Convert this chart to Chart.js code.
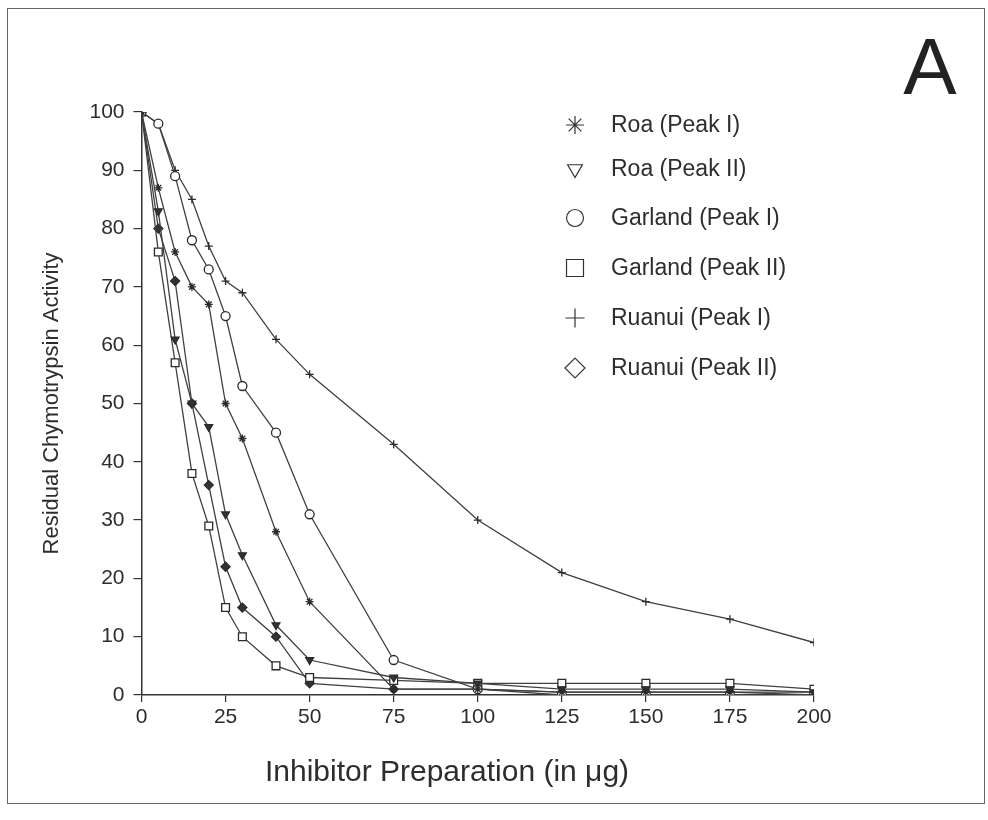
<!DOCTYPE html>
<html><head><meta charset="utf-8">
<script src="https://cdn.jsdelivr.net/npm/chart.js@4.4.1/dist/chart.umd.min.js"></script>
<style>
html,body{margin:0;padding:0;background:#fff;}
#wrap{position:relative;width:988px;height:820px;}
#frame{position:absolute;left:7px;top:8px;width:978px;height:796px;border:1.5px solid #666;box-sizing:border-box;pointer-events:none}
</style></head><body>
<div id="wrap"><canvas id="c" width="988" height="820"></canvas><div id="frame"></div></div>
<script>
const doses = [0, 5, 10, 15, 20, 25, 30, 40, 50, 75, 100, 125, 150, 175, 200];
const roaPeakI      = [100, 87, 76, 70, 67, 50, 44, 28, 16, 1, 1, 0.5, 0.5, 0.5, 0];
const roaPeakII     = [100, 83, 61, 50, 46, 31, 24, 12, 6, 3, 2, 1, 1, 1, 0.5];
const garlandPeakI  = [100, 98, 89, 78, 73, 65, 53, 45, 31, 6, 1, 0, 0, 0, 0];
const garlandPeakII = [100, 76, 57, 38, 29, 15, 10, 5, 3, 2.5, 2, 2, 2, 2, 1];
const ruanuiPeakI   = [100, 98, 90, 85, 77, 71, 69, 61, 55, 43, 30, 21, 16, 13, 9];
const ruanuiPeakII  = [100, 80, 71, 50, 36, 22, 15, 10, 2, 1, 1, 0.5, 0.5, 0.5, 0.5];
const seriesNames = ['Roa (Peak I)', 'Roa (Peak II)', 'Garland (Peak I)', 'Garland (Peak II)', 'Ruanui (Peak I)', 'Ruanui (Peak II)'];
const xTicks = [0, 25, 50, 75, 100, 125, 150, 175, 200];
const yTicks = [0, 10, 20, 30, 40, 50, 60, 70, 80, 90, 100];
const xTitle = 'Inhibitor Preparation (in μg)';
const yTitle = 'Residual Chymotrypsin Activity';
const panelLabel = 'A';

const allSeries = [roaPeakI, roaPeakII, garlandPeakI, garlandPeakII, ruanuiPeakI, ruanuiPeakII];
const styles = [
  {ps:'star', rot:0, r:4, fill:'#333', lr:9},
  {ps:'triangle', rot:180, r:4.5, fill:'#333', lr:8.5},
  {ps:'circle', rot:0, r:4.5, fill:'#fff', lr:8.5},
  {ps:'rect', rot:0, r:5.5, fill:'#fff', lr:12},
  {ps:'cross', rot:0, r:4, fill:'#333', lr:9.5},
  {ps:'rectRot', rot:0, r:4.5, fill:'#333', lr:10}
];
const ink = '#2d2d2d';
const FONT = "'Liberation Sans', Arial, sans-serif";

const datasets = allSeries.map((vals, i) => ({
  label: seriesNames[i],
  data: doses.map((d, j) => ({x: d, y: vals[j]})),
  showLine: true,
  borderColor: '#404040',
  borderWidth: 1.3,
  pointStyle: styles[i].ps,
  pointRotation: styles[i].rot,
  pointRadius: styles[i].r,
  pointBorderWidth: 1.3,
  pointBorderColor: '#2a2a2a',
  pointBackgroundColor: styles[i].fill,
  fill: false,
  tension: 0
}));

const legendY = [125, 169, 218, 268, 318, 368];
const overlay = {
  id: 'overlay',
  afterDraw(chart) {
    const ctx = chart.ctx;
    ctx.save();
    seriesNames.forEach((name, i) => {
      ctx.strokeStyle = '#333';
      ctx.fillStyle = '#fff';
      ctx.lineWidth = 1.2;
      Chart.helpers.drawPoint(ctx, {pointStyle: styles[i].ps, radius: styles[i].lr, rotation: styles[i].rot, borderWidth: 1.2}, 575, legendY[i]);
      ctx.fillStyle = ink;
      ctx.font = '23px ' + FONT;
      ctx.textBaseline = 'middle';
      ctx.textAlign = 'left';
      ctx.fillText(name, 611, legendY[i] + 1);
    });
    ctx.font = '30px ' + FONT;
    ctx.textAlign = 'center';
    ctx.textBaseline = 'middle';
    ctx.fillText(xTitle, 447, 773);
    ctx.font = '80px ' + FONT;
    ctx.textBaseline = 'alphabetic';
    ctx.textAlign = 'center';
    ctx.fillStyle = '#222';
    ctx.fillText(panelLabel, 930, 94);
    ctx.restore();
  }
};

new Chart(document.getElementById('c'), {
  type: 'scatter',
  data: {datasets},
  plugins: [overlay],
  options: {
    responsive: false,
    animation: false,
    layout: {padding: {left: 10, right: 174, top: 112, bottom: 10}},
    plugins: {legend: {display: false}, tooltip: {enabled: false}},
    scales: {
      x: {
        type: 'linear', min: 0, max: 200,
        afterBuildTicks: s => { s.ticks = xTicks.map(v => ({value: v})); },
        afterFit: s => { s.height = 115; },
        ticks: {font: {size: 21, family: FONT}, color: ink, padding: 3, maxRotation: 0, autoSkip: false},
        grid: {display: true, drawOnChartArea: false, tickLength: 7, color: '#333', lineWidth: 1.2},
        border: {color: '#333', width: 1.5},
        title: {display: false}
      },
      y: {
        type: 'linear', min: 0, max: 100,
        afterBuildTicks: s => { s.ticks = yTicks.map(v => ({value: v})); },
        afterFit: s => { s.width = 131.5; },
        ticks: {font: {size: 21, family: FONT}, color: ink, padding: 9, autoSkip: false},
        grid: {display: true, drawOnChartArea: false, tickLength: 8, color: '#333', lineWidth: 1.2},
        border: {color: '#333', width: 1.5},
        title: {display: true, text: yTitle, font: {size: 22, family: FONT}, color: ink, padding: {top: 29, bottom: 0}}
      }
    }
  }
});
</script>
</body></html>
